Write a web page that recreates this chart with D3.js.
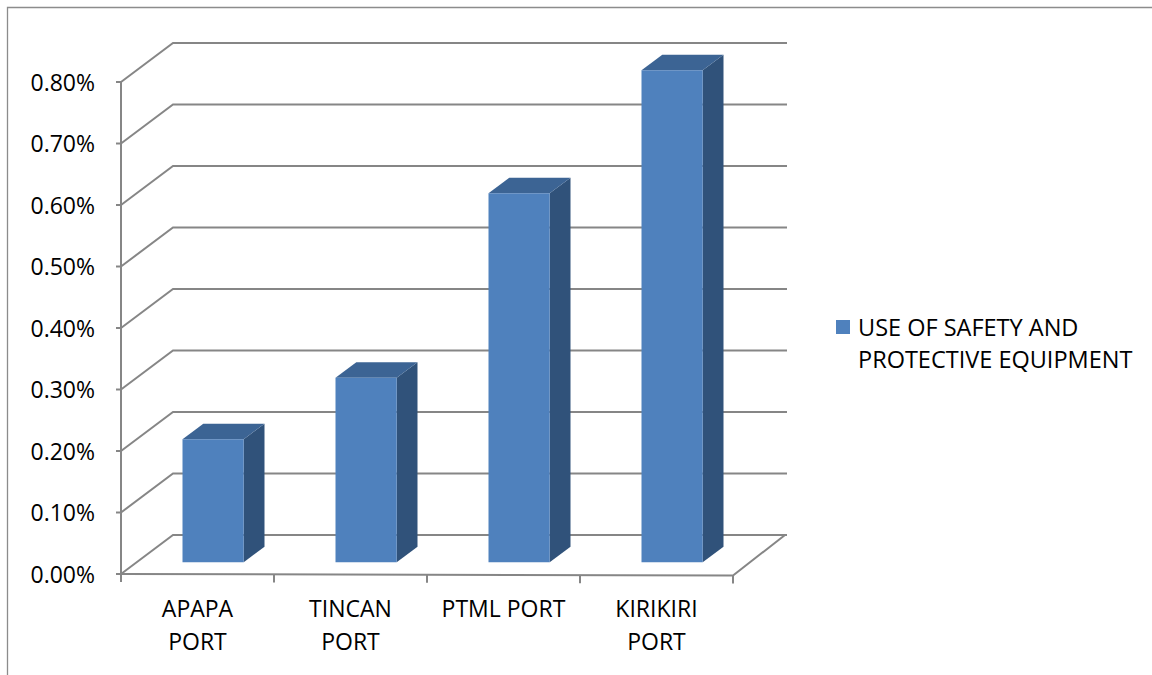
<!DOCTYPE html>
<html>
<head>
<meta charset="utf-8">
<script src="https://cdn.jsdelivr.net/npm/d3@7/dist/d3.min.js"></script>
<style>
  html, body { margin: 0; padding: 0; background: #fff; }
  svg { display: block; }
  text { font-family: "Open Sans", "Noto Sans", sans-serif; fill: #000; }
</style>
</head>
<body>
<svg id="chart" width="1152" height="675"></svg>
<script>
// ---- data ----
const categories = [["APAPA", "PORT"], ["TINCAN", "PORT"], ["PTML PORT"], ["KIRIKIRI", "PORT"]];
const categoryKeys = ["APAPA PORT", "TINCAN PORT", "PTML PORT", "KIRIKIRI PORT"];
const values = [0.002, 0.003, 0.006, 0.008];
const yTicks = [0, 0.001, 0.002, 0.003, 0.004, 0.005, 0.006, 0.007, 0.008];
const seriesName = ["USE OF SAFETY AND", "PROTECTIVE EQUIPMENT"];

(function () {
// ---- layout ----
const svg = d3.select("#chart");
const pLeft = 121, pRight = 733, pBottom = 574, pTop = 82;
const depthX = 52, depthY = -39;
const wallRight = 787;
const gridColor = "#868686";

const x = d3.scaleBand().domain(categoryKeys).range([pLeft, pRight]).paddingInner(0).paddingOuter(0);
const y = d3.scaleLinear().domain([0, 0.008]).range([pBottom, pTop]);
const proj = (px, py, f) => [px + depthX * f, py + depthY * f];

// chart border (only top/left visible)
svg.append("path")
  .attr("d", `M7.5,675 L7.5,7.5 L1152,7.5`)
  .attr("fill", "none").attr("stroke", "#8c8c8c").attr("stroke-width", 1.3);

// gridlines: side wall diagonal + back wall horizontal
const g = svg.append("g");
yTicks.forEach(v => {
  const yy = y(v);
  const b = proj(pLeft, yy, 1);
  g.append("path")
    .attr("d", `M${pLeft},${yy} L${b[0]},${b[1]} L${wallRight},${b[1]}`)
    .attr("fill", "none").attr("stroke", gridColor).attr("stroke-width", 2);
});

// floor front edge and right edge
g.append("path")
  .attr("d", `M${pLeft},${pBottom} L${pRight},${pBottom + 1.5} L${pRight + depthX},${pBottom + depthY}`)
  .attr("fill", "none").attr("stroke", gridColor).attr("stroke-width", 2);

// front vertical axis
g.append("line").attr("x1", pLeft).attr("x2", pLeft).attr("y1", y(0.008)).attr("y2", pBottom + 8)
  .attr("stroke", gridColor).attr("stroke-width", 2);

// y ticks
yTicks.forEach(v => {
  g.append("line").attr("x1", pLeft - 5).attr("x2", pLeft).attr("y1", y(v)).attr("y2", y(v))
    .attr("stroke", gridColor).attr("stroke-width", 2);
});

// x ticks
const xTickPos = categoryKeys.map(c => x(c)).concat([pRight]);
xTickPos.forEach(p => {
  const yb = pBottom + 1.5 * (p - pLeft) / (pRight - pLeft);
  g.append("line").attr("x1", p).attr("x2", p).attr("y1", yb).attr("y2", yb + 8)
    .attr("stroke", gridColor).attr("stroke-width", 2);
});

// bars
const bw = x.bandwidth();
const f0 = 0.3, f1 = 0.7;
const bars = svg.append("g");
values.forEach((v, i) => {
  const bx0 = x(categoryKeys[i]) + bw * 0.3;
  const bx1 = x(categoryKeys[i]) + bw * 0.7;
  const yb = y(0), yt = y(v);
  const A = proj(bx0, yt, f0), B = proj(bx1, yt, f0), C = proj(bx1, yb, f0), D = proj(bx0, yb, f0);
  const At = proj(bx0, yt, f1), Bt = proj(bx1, yt, f1), Cb = proj(bx1, yb, f1);
  bars.append("path").attr("d", `M${B} L${Bt} L${Cb} L${C} Z`).attr("fill", "#30527A");
  bars.append("path").attr("d", `M${A} L${At} L${Bt} L${B} Z`).attr("fill", "#3C6494");
  bars.append("path").attr("d", `M${A} L${B} L${C} L${D} Z`).attr("fill", "#4F81BD");
});

// y labels
const fmt = d3.format(".2%");
yTicks.forEach(v => {
  svg.append("text").attr("x", 95).attr("y", y(v)).attr("dy", "0.38em")
    .attr("text-anchor", "end").style("font-size", "23px").text(fmt(v));
});

// x labels
categories.forEach((lines, i) => {
  const cx = x(categoryKeys[i]) + bw / 2;
  const t = svg.append("text").attr("text-anchor", "middle").style("font-size", "23px");
  lines.forEach((ln, j) => {
    t.append("tspan").attr("x", cx).attr("y", 617 + j * 33).text(ln);
  });
});

// legend
svg.append("rect").attr("x", 836).attr("y", 320).attr("width", 14).attr("height", 14).attr("fill", "#4F81BD");
const lt = svg.append("text").style("font-size", "23.5px");
seriesName.forEach((ln, j) => {
  lt.append("tspan").attr("x", 858).attr("y", 336 + j * 32).text(ln);
});
})();
</script>
</body>
</html>
